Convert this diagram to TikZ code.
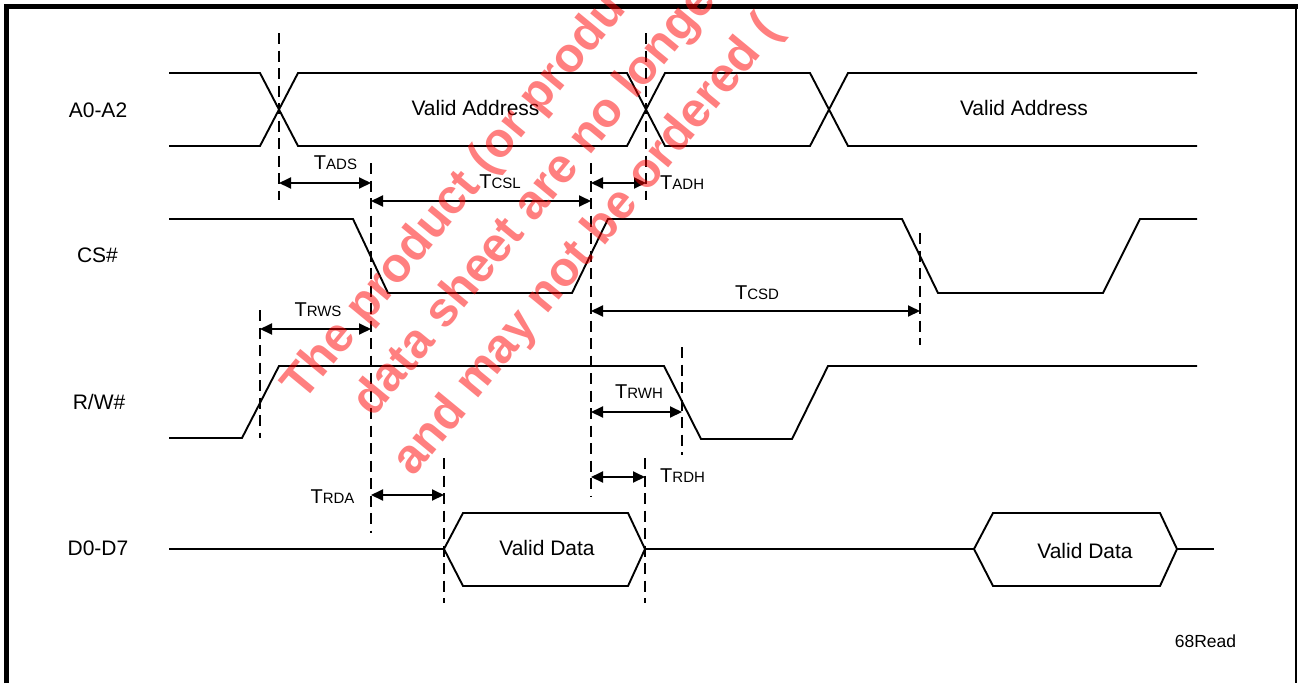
\documentclass[tikz,border=0pt]{standalone}
\usepackage{fontspec}
\setmainfont{Liberation Sans}
\usetikzlibrary{arrows.meta}
\newcommand{\Tlab}[1]{{\fontsize{20}{24}\selectfont T}{\fontsize{15}{18}\selectfont #1}}
\begin{document}
\begin{tikzpicture}[x=1pt,y=-1pt,
  sig/.style={line width=1.9pt, line join=miter},
  dsh/.style={line width=1.6pt, dash pattern=on 11pt off 6.5pt},
  dimarrow/.style={line width=1.9pt, {Triangle[length=12pt,width=11pt]}-{Triangle[length=12pt,width=11pt]}},
  lbl/.style={font=\fontsize{21}{25}\selectfont, anchor=base, inner sep=0pt},
  tlbl/.style={anchor=base, inner sep=0pt},
  tlblw/.style={anchor=base west, inner sep=0pt},
  wm/.style={font=\fontsize{48.5}{56}\selectfont\bfseries, text=red, text opacity=0.5, anchor=base west, inner sep=0pt, rotate=50.5}]
\useasboundingbox (0,0) rectangle (1298,683);
\clip (0,0) rectangle (1298,683);
% frame
\draw[line width=5pt] (6.5,683) -- (6.5,6.5) -- (1298,6.5);
\draw[line width=2.8pt] (1296,4) -- (1296,683);
% signal names
\node[lbl] (nA) at (98,117) {A0-A2};
\node[lbl] (nCS) at (97.5,262) {CS\#};
\node[lbl] (nRW) at (99,409) {R/W\#};
\node[lbl] (nD) at (98,555) {D0-D7};
% A0-A2 bus
\draw[sig] (169,73) -- (260,73) -- (298,146) -- (627,146) -- (665,73) -- (810,73) -- (848,146) -- (1197,146);
\draw[sig] (169,146) -- (260,146) -- (298,73) -- (627,73) -- (665,146) -- (810,146) -- (848,73) -- (1197,73);
\node[lbl] (va1) at (475.5,115) {Valid Address};
\node[lbl] (va2) at (1024,115) {Valid Address};
% CS#
\draw[sig] (169,219) -- (353,219) -- (388,293) -- (572,293) -- (608,219) -- (902,219) -- (938,293) -- (1103,293) -- (1140,219) -- (1197,219);
% R/W#
\draw[sig] (169,438) -- (242,438) -- (279,366) -- (664,366) -- (701,439) -- (792,439) -- (828,366) -- (1197,366);
% D0-D7
\draw[sig] (169,549) -- (444,549);
\draw[sig] (444,549) -- (463,513) -- (628,513) -- (645,549) -- (628,586) -- (463,586) -- cycle;
\draw[sig] (645,549) -- (974,549);
\draw[sig] (974,549) -- (993,513) -- (1160,513) -- (1177,549) -- (1160,586) -- (993,586) -- cycle;
\draw[sig] (1177,549) -- (1214,549);
\node[lbl] (vd1) at (547,555) {Valid Data};
\node[lbl] (vd2) at (1085,558) {Valid Data};
% timing reference coordinates
\coordinate (a1t) at (279,33);  \coordinate (a1b) at (279,200);
\coordinate (a2t) at (646,33);  \coordinate (a2b) at (646,200);
\coordinate (c1t) at (371,163); \coordinate (c1b) at (371,533);
\coordinate (c2t) at (591,163); \coordinate (c2b) at (591,497);
\coordinate (c3t) at (920,233); \coordinate (c3b) at (920,345);
\coordinate (r1t) at (260,310); \coordinate (r1b) at (260,438);
\coordinate (r2t) at (682,347); \coordinate (r2b) at (682,455);
\coordinate (d1t) at (444,458); \coordinate (d1b) at (444,603);
\coordinate (d2t) at (645,458); \coordinate (d2b) at (645,603);
\foreach \p in {a1,a2,c1,c2,c3,r1,r2,d1,d2} \draw[dsh] (\p t) -- (\p b);
% dimension arrows
\coordinate (tads1) at (279,183); \coordinate (tads2) at (371,183);
\coordinate (tcsl1) at (371,201); \coordinate (tcsl2) at (591,201);
\coordinate (tadh1) at (591,183); \coordinate (tadh2) at (646,183);
\coordinate (trws1) at (260,329); \coordinate (trws2) at (371,329);
\coordinate (tcsd1) at (591,311); \coordinate (tcsd2) at (920,311);
\coordinate (trwh1) at (591,412); \coordinate (trwh2) at (682,412);
\coordinate (trdh1) at (591,477); \coordinate (trdh2) at (645,477);
\coordinate (trda1) at (371,495); \coordinate (trda2) at (444,495);
\foreach \p in {tads,tcsl,tadh,trws,tcsd,trwh,trdh,trda} \draw[dimarrow] (\p1) -- (\p2);
% timing labels
\node[tlbl] (lads) at (335.5,169) {\Tlab{ADS}};
\node[tlbl] (lcsl) at (500,188) {\Tlab{CSL}};
\node[tlblw] (ladh) at (660,189) {\Tlab{ADH}};
\node[tlbl] (lrws) at (318,316) {\Tlab{RWS}};
\node[tlbl] (lcsd) at (757,299) {\Tlab{CSD}};
\node[tlbl] (lrwh) at (639,398) {\Tlab{RWH}};
\node[tlblw] (lrdh) at (660,482) {\Tlab{RDH}};
\node[tlbl] (lrda) at (332.5,503) {\Tlab{RDA}};
\node[anchor=base, inner sep=0pt, font=\fontsize{17.5}{21}\selectfont] (fig) at (1205.5,647) {68Read};
% watermark
\node[wm] (w1) at (303,403) {The product (or produ};
\node[wm] (w2) at (373,419) {data sheet are no longe};
\node[wm] (w3) at (413,478) {and may not be ordered (};
\end{tikzpicture}
\end{document}
